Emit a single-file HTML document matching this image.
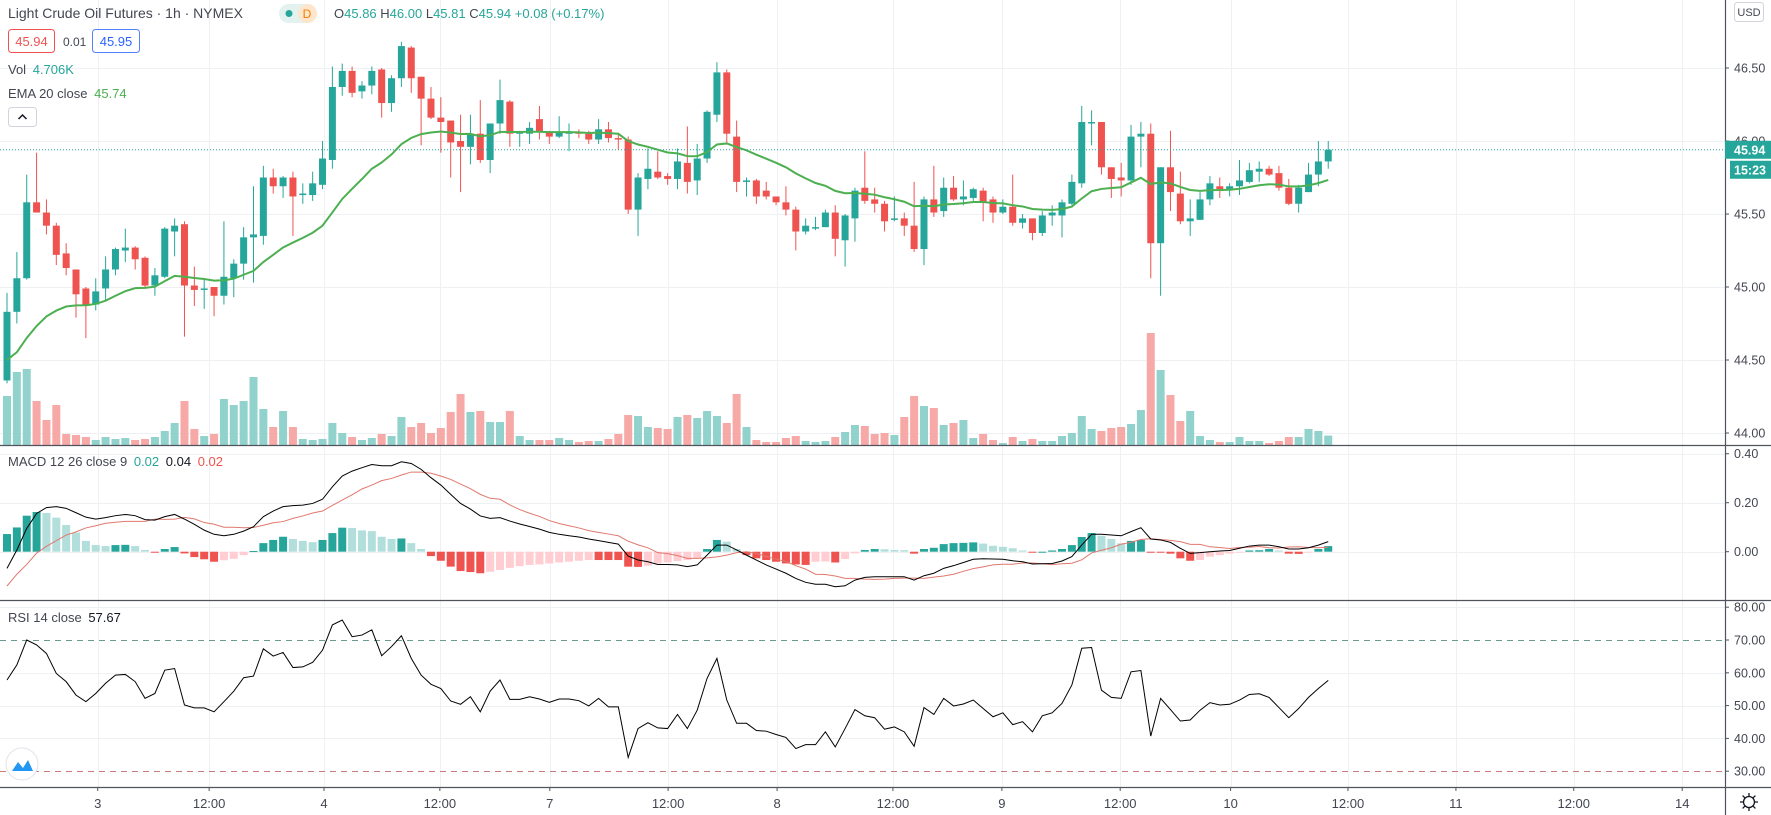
<!DOCTYPE html>
<html><head><meta charset="utf-8"><style>
html,body{margin:0;padding:0;background:#fff;}
#wrap{position:relative;width:1771px;height:815px;overflow:hidden;font-family:"Liberation Sans",sans-serif;}
svg text{font-family:"Liberation Sans",sans-serif;}
</style></head><body>
<div id="wrap">
<svg id="chart" width="1771" height="815" viewBox="0 0 1771 815" xmlns="http://www.w3.org/2000/svg">
<g id="grid"></g>
<g id="vol"></g>
<g id="candles"></g>
<g id="ema"></g>
<g id="macd"></g>
<g id="rsi"></g>
<g id="axes"></g>

<!-- legends -->
<text x="8" y="18" font-size="14" fill="#434651">Light Crude Oil Futures · 1h · NYMEX</text>
<rect x="279" y="4" width="38" height="19" rx="9.5" fill="#e3f2ef"/>
<rect x="298" y="4" width="19" height="19" rx="9.5" fill="#fde6cc"/>
<circle cx="289" cy="13.5" r="3.5" fill="#26a69a"/>
<text x="307" y="18" font-size="12" fill="#f57c00" text-anchor="middle">D</text>
<text x="334" y="18" font-size="13" fill="#434651">O<tspan fill="#26a69a">45.86</tspan> H<tspan fill="#26a69a">46.00</tspan> L<tspan fill="#26a69a">45.81</tspan> C<tspan fill="#26a69a">45.94</tspan> <tspan fill="#26a69a">+0.08 (+0.17%)</tspan></text>
<rect x="8.5" y="29.5" width="46" height="23" rx="3" fill="#fff" stroke="#ef5350"/>
<text x="31.5" y="46" font-size="13" fill="#ef5350" text-anchor="middle">45.94</text>
<text x="63" y="46" font-size="12" fill="#434651">0.01</text>
<rect x="92.5" y="29.5" width="47" height="23" rx="3" fill="#fff" stroke="#2962ff" stroke-opacity="0.8"/>
<text x="116" y="46" font-size="13" fill="#2962ff" text-anchor="middle">45.95</text>
<text x="8" y="74" font-size="13" fill="#434651">Vol <tspan fill="#26a69a" dx="3">4.706K</tspan></text>
<text x="8" y="98" font-size="13" fill="#434651">EMA 20 close <tspan fill="#4caf50" dx="3">45.74</tspan></text>
<rect x="8.5" y="107.5" width="28" height="19" rx="3" fill="#fff" stroke="#d1d4dc"/>
<path d="M18.5 119 L22.5 115 L26.5 119" fill="none" stroke="#131722" stroke-width="1.5"/>
<text x="8" y="466" font-size="13" fill="#434651">MACD 12 26 close 9 <tspan fill="#26a69a" dx="3">0.02</tspan> <tspan fill="#131722" dx="3">0.04</tspan> <tspan fill="#ef5350" dx="3">0.02</tspan></text>
<text x="8" y="622" font-size="13" fill="#434651">RSI 14 close <tspan fill="#131722" dx="3">57.67</tspan></text>
<circle cx="22" cy="764" r="16" fill="#fff" stroke="#e0e3eb"/>
<path d="M12 771 L18 762 L23 768 L28 760 L33 771 Z" fill="#2196f3"/>
<rect x="1734.5" y="2.5" width="29" height="19" rx="3" fill="#fff" stroke="#d1d4dc"/>
<text x="1749" y="16" font-size="11" fill="#434651" text-anchor="middle">USD</text>
<g transform="translate(1749,802)">
<circle r="5.5" fill="none" stroke="#131722" stroke-width="1.3"/>
<path d="M0 -9V-5.5M0 5.5V9M-9 0H-5.5M5.5 0H9M-6.4 -6.4L-3.9 -3.9M3.9 3.9L6.4 6.4M-6.4 6.4L-3.9 3.9M3.9 -3.9L6.4 -6.4" stroke="#131722" stroke-width="1.3"/>
</g>
</svg>
</div>
<script>
const openP=[44.36,44.83,45.06,45.58,45.51,45.42,45.23,45.12,44.99,44.88,44.99,45.12,45.25,45.27,45.20,45.01,45.07,45.38,45.43,45.01,44.99,45.00,44.94,45.06,45.16,45.34,45.35,45.75,45.69,45.75,45.63,45.63,45.70,45.87,46.37,46.48,46.34,46.38,46.49,46.26,46.43,46.64,46.44,46.29,46.16,46.14,46.00,45.96,46.05,45.87,46.12,46.27,46.05,46.05,46.15,46.06,46.03,46.06,46.06,46.05,46.01,46.08,46.02,46.01,45.53,45.74,45.79,45.76,45.74,45.85,45.73,45.88,46.18,46.47,46.03,45.73,45.73,45.66,45.62,45.58,45.53,45.38,45.41,45.41,45.51,45.32,45.47,45.68,45.60,45.57,45.47,45.47,45.42,45.26,45.60,45.52,45.68,45.60,45.61,45.66,45.60,45.51,45.55,45.44,45.47,45.37,45.49,45.49,45.57,45.71,46.12,46.13,45.82,45.75,45.73,46.03,46.05,45.30,45.82,45.64,45.45,45.46,45.60,45.69,45.67,45.69,45.72,45.79,45.81,45.78,45.68,45.57,45.65,45.77,45.86];
const highP=[44.96,45.24,45.77,45.92,45.60,45.44,45.30,45.12,45.00,45.06,45.21,45.27,45.40,45.28,45.21,45.13,45.41,45.47,45.45,45.14,45.06,45.00,45.45,45.19,45.41,45.69,45.83,45.81,45.76,45.79,45.71,45.79,46.00,46.51,46.53,46.51,46.41,46.51,46.50,46.45,46.68,46.65,46.44,46.37,46.30,46.14,46.18,46.18,46.28,46.12,46.42,46.28,46.07,46.13,46.24,46.07,46.17,46.12,46.08,46.07,46.15,46.13,46.05,46.03,45.78,45.95,45.93,45.78,45.95,46.10,45.98,46.21,46.54,46.49,46.14,45.75,45.74,45.72,45.62,45.69,45.55,45.47,45.48,45.53,45.56,45.50,45.68,45.93,45.68,45.59,45.62,45.51,45.72,45.62,45.83,45.75,45.76,45.73,45.68,45.68,45.62,45.60,45.77,45.50,45.47,45.52,45.56,45.60,45.77,46.24,46.21,46.13,45.82,45.85,46.11,46.13,46.12,45.82,46.07,45.79,45.60,45.65,45.76,45.75,45.71,45.87,45.85,45.86,45.83,45.83,45.74,45.70,45.85,46.00,46.00];
const lowP=[44.34,44.75,45.05,45.51,45.36,45.15,45.08,44.79,44.65,44.84,44.91,45.08,45.17,45.12,44.99,44.94,45.06,45.21,44.66,44.87,44.85,44.80,44.88,44.93,45.05,45.03,45.29,45.64,45.61,45.35,45.57,45.59,45.67,45.81,46.31,46.30,46.29,46.32,46.16,46.20,46.37,46.33,45.97,46.15,45.92,45.75,45.65,45.84,45.85,45.78,46.05,45.96,45.96,45.98,46.01,45.98,46.02,45.93,46.02,45.98,45.98,45.99,45.94,45.50,45.35,45.67,45.74,45.70,45.67,45.64,45.63,45.85,46.13,45.99,45.65,45.62,45.57,45.60,45.56,45.49,45.25,45.36,45.39,45.41,45.21,45.14,45.31,45.57,45.51,45.38,45.45,45.35,45.24,45.15,45.48,45.48,45.59,45.56,45.59,45.45,45.44,45.50,45.42,45.40,45.32,45.35,45.42,45.34,45.56,45.68,45.97,45.77,45.61,45.62,45.70,45.82,45.06,44.94,45.52,45.43,45.35,45.46,45.56,45.61,45.62,45.63,45.71,45.72,45.76,45.66,45.56,45.51,45.65,45.69,45.81];
const closeP=[44.83,45.06,45.58,45.51,45.42,45.22,45.13,44.95,44.88,44.97,45.12,45.26,45.27,45.19,45.01,45.08,45.40,45.42,45.01,44.98,44.99,44.94,45.07,45.16,45.34,45.36,45.75,45.69,45.75,45.62,45.64,45.71,45.88,46.37,46.48,46.33,46.38,46.48,46.26,46.43,46.65,46.43,46.29,46.16,46.13,45.99,45.96,46.05,45.87,46.12,46.28,46.05,46.06,46.09,46.06,46.03,46.06,46.06,46.05,46.01,46.08,46.02,46.01,45.53,45.75,45.81,45.75,45.74,45.86,45.72,45.88,46.20,46.47,46.05,45.72,45.73,45.62,45.62,45.58,45.53,45.38,45.42,45.41,45.51,45.33,45.49,45.66,45.59,45.57,45.45,45.47,45.42,45.26,45.60,45.51,45.68,45.60,45.62,45.67,45.58,45.51,45.55,45.44,45.47,45.37,45.49,45.51,45.58,45.72,46.13,46.13,45.82,45.74,45.73,46.03,46.05,45.30,45.82,45.65,45.45,45.47,45.60,45.71,45.67,45.69,45.73,45.80,45.81,45.77,45.68,45.57,45.68,45.77,45.86,45.94];
const volumeK=[24.5,36.5,38,22,12.5,20,5.5,5,4,2.5,4,3,3.5,2.5,3,4,7,11,22,8,4.5,5.5,23,20,22,34,18,9,17,9,3,2.5,3,11,6,4,2.5,3.5,5.5,4.5,14,9,11,6,8.5,16.5,25.5,16.5,17,11.5,11.5,17,4.5,2.5,2.5,2.5,3.5,2.5,1.5,2,2,3,5.5,15,14.5,9,8.5,8,14,15,13.5,17,14.5,11,25.5,9,2.5,1.5,1.5,3.5,4.5,2,1.5,2,4,6.5,10,9.5,5.5,6,5,14,24.5,19.5,18.5,10,11,12.5,3.5,5.5,2.5,1,4,2,3,2,2,4.5,6,14.5,8,7,8.5,9,10.5,17.5,56,37.5,25,12,17,4.5,2.5,1.5,1.5,4,2,2,1,2,4,4,8,7,4.706];
const macdLine=[-0.068,0.007,0.095,0.156,0.180,0.184,0.177,0.159,0.141,0.133,0.139,0.147,0.152,0.147,0.131,0.129,0.143,0.152,0.133,0.112,0.088,0.071,0.065,0.071,0.084,0.102,0.143,0.166,0.184,0.188,0.190,0.197,0.214,0.265,0.309,0.329,0.343,0.356,0.351,0.351,0.367,0.360,0.336,0.302,0.272,0.234,0.197,0.174,0.146,0.136,0.139,0.125,0.113,0.103,0.092,0.079,0.071,0.065,0.060,0.052,0.045,0.038,0.031,-0.018,-0.034,-0.041,-0.052,-0.052,-0.054,-0.061,-0.054,-0.014,0.027,0.027,0.007,-0.014,-0.034,-0.054,-0.071,-0.088,-0.109,-0.125,-0.133,-0.133,-0.143,-0.139,-0.116,-0.105,-0.102,-0.102,-0.102,-0.102,-0.116,-0.098,-0.088,-0.068,-0.057,-0.044,-0.031,-0.029,-0.030,-0.031,-0.037,-0.041,-0.050,-0.049,-0.048,-0.038,-0.020,0.027,0.071,0.071,0.068,0.065,0.082,0.098,0.052,0.048,0.038,0.014,-0.007,-0.004,0.000,0.003,0.005,0.014,0.023,0.027,0.027,0.020,0.011,0.011,0.016,0.027,0.041];
const macdHist=[0.072,0.099,0.147,0.162,0.158,0.139,0.109,0.078,0.044,0.027,0.023,0.027,0.028,0.023,0.007,-0.004,0.011,0.019,-0.007,-0.022,-0.031,-0.041,-0.035,-0.029,-0.014,0.003,0.035,0.048,0.061,0.052,0.044,0.039,0.048,0.076,0.098,0.097,0.087,0.084,0.061,0.052,0.054,0.035,0.011,-0.018,-0.037,-0.061,-0.079,-0.083,-0.088,-0.082,-0.075,-0.066,-0.059,-0.054,-0.052,-0.048,-0.044,-0.041,-0.037,-0.034,-0.034,-0.034,-0.034,-0.061,-0.062,-0.057,-0.048,-0.044,-0.038,-0.034,-0.027,0.011,0.048,0.041,0.011,-0.014,-0.027,-0.034,-0.041,-0.048,-0.052,-0.054,-0.041,-0.040,-0.044,-0.030,-0.007,0.007,0.011,0.010,0.007,0.006,-0.008,0.011,0.016,0.031,0.035,0.036,0.038,0.033,0.024,0.020,0.014,0.005,-0.004,0.000,0.005,0.011,0.027,0.060,0.076,0.065,0.052,0.034,0.044,0.048,-0.001,-0.002,-0.008,-0.027,-0.037,-0.034,-0.020,-0.014,-0.008,-0.003,0.005,0.006,0.011,0.005,-0.008,-0.009,-0.001,0.011,0.023];
const macdSignal=macdLine.map((m,i)=>m-macdHist[i]);
const rsiValues=[57.8,62.4,70.0,68.5,65.9,59.8,57.3,53.2,51.2,53.7,56.8,59.3,59.5,57.3,52.2,53.7,60.8,61.3,50.2,49.3,49.3,48.1,51.2,54.4,58.5,59.0,67.3,65.1,66.2,61.6,61.8,63.2,66.9,74.6,76.1,71.0,71.5,73.1,65.2,68.0,71.3,64.4,59.3,56.5,55.2,51.4,50.4,52.7,48.1,54.4,57.8,51.9,51.9,52.7,52.0,51.0,52.0,52.0,51.5,49.9,52.2,49.6,49.6,34.2,43.0,44.8,43.2,43.0,47.3,43.0,48.6,58.3,64.4,51.7,44.6,44.6,42.4,42.2,41.2,40.3,36.9,38.1,38.1,42.0,37.4,43.0,48.8,46.9,46.3,42.8,43.5,42.0,37.6,49.4,47.3,52.2,49.9,50.5,51.7,49.1,46.6,47.8,44.2,45.1,42.0,46.9,47.8,50.7,56.3,67.5,67.7,54.7,52.5,52.2,60.3,60.7,40.7,52.2,48.8,45.3,45.6,48.6,50.9,50.2,50.4,51.7,53.4,53.6,52.5,49.4,46.3,49.1,52.5,55.2,57.7];
const emaSeed=44.50;
const priceTicks=["46.50","46.00","45.50","45.00","44.50","44.00"];
const macdTicks=["0.40","0.20","0.00"];
const rsiTicks=["80.00","70.00","60.00","50.00","40.00","30.00"];
const timeLabels=["3","12:00","4","12:00","7","12:00","8","12:00","9","12:00","10","12:00","11","12:00","14"];
const timeTickIdx=[9.2,20.5,32.15,43.9,55.05,67.05,78.1,89.85,100.9,112.9,124.1,136.0,146.95,158.9,169.9];
const lastPrice=45.94;

const NS="http://www.w3.org/2000/svg";
const X=i=>7+9.86*i;
const PY=p=>141+(46-p)*146;
const MY=v=>551.7-v*245;
const RY=v=>640-(v-70)*3.28;
const VH=v=>v*2;
const AXX=1725;
function mk(tag,attrs,parent){const e=document.createElementNS(NS,tag);for(const k in attrs)e.setAttribute(k,attrs[k]);parent.appendChild(e);return e;}
const $=id=>document.getElementById(id);
const UP="#26a69a",DN="#ef5350";

// grid
const grid=$('grid');
timeTickIdx.forEach(t=>{const x=Math.round(X(t))+0.5;const l=mk('line',{x1:x,x2:x,y1:0,y2:787,stroke:"#eef0f4"},grid);

});
priceTicks.forEach(t=>{const y=Math.round(PY(+t))+0.5;const l=mk('line',{x1:0,x2:AXX,y1:y,y2:y,stroke:"#eef0f4"},grid);

});
macdTicks.forEach(t=>{const y=Math.round(MY(+t))+0.5;const l=mk('line',{x1:0,x2:AXX,y1:y,y2:y,stroke:"#eef0f4"},grid);

});
rsiTicks.forEach(t=>{const v=+t;const y=Math.round(RY(v))+0.5;
if(v===70||v===30){const l=mk('line',{x1:0,x2:AXX,y1:y,y2:y,stroke:v===70?"#6a9a90":"#c77a78","stroke-dasharray":"6,5"},grid);

}
else{const l=mk('line',{x1:0,x2:AXX,y1:y,y2:y,stroke:"#eef0f4"},grid);

}});

// volume
const vg=$('vol');
volumeK.forEach((v,i)=>{const h=VH(v);const r=mk('rect',{x:X(i)-4,y:445-h,width:8,height:h,fill:closeP[i]>=openP[i]?"#92d2cc":"#f7a9a7"},vg);

});

// candles
const cg=$('candles');
openP.forEach((o,i)=>{const c=closeP[i];const col=c>=o?UP:DN;const x=X(i);
const w=mk('line',{x1:x,x2:x,y1:PY(highP[i]),y2:PY(lowP[i]),stroke:col,"stroke-width":1},cg);


const top=PY(Math.max(o,c));const h=Math.max(1.5,Math.abs(PY(o)-PY(c)));
const b=mk('rect',{x:x-3.5,y:top,width:7,height:h,fill:col},cg);

});

// EMA
let e=emaSeed;const k=2/21;const pts=[];
closeP.forEach((c,i)=>{if(i>0)e=c*k+e*(1-k);pts.push(X(i)+","+PY(e));});
const ep=mk('polyline',{points:pts.join(" "),fill:"none",stroke:"#4caf50","stroke-width":2},$('ema'));



// last price line
const lp=mk('line',{x1:0,x2:AXX,y1:PY(lastPrice),y2:PY(lastPrice),stroke:UP,"stroke-dasharray":"1,2"},$('ema'));



// MACD
const mg=$('macd');
macdHist.forEach((h,i)=>{const prev=i>0?macdHist[i-1]:h;let col;
if(h>=0)col=h>=prev?"#26a69a":"#b2dfdb";else col=h<=prev?"#ef5350":"#ffcdd2";
const y0=MY(0),y1=MY(h);const r=mk('rect',{x:X(i)-4,y:Math.min(y0,y1),width:8,height:Math.max(1,Math.abs(y1-y0)),fill:col},mg);

});
const sl=mk('polyline',{points:macdSignal.map((v,i)=>X(i)+","+MY(v)).join(" "),fill:"none",stroke:"#e0786e","stroke-width":1},mg);


const ml=mk('polyline',{points:macdLine.map((v,i)=>X(i)+","+MY(v)).join(" "),fill:"none",stroke:"#000","stroke-width":1},mg);



// RSI
const rl=mk('polyline',{points:rsiValues.map((v,i)=>X(i)+","+RY(v)).join(" "),fill:"none",stroke:"#000","stroke-width":1},$('rsi'));



// axes
const ax=$('axes');
[[445.5],[600.5],[787.5]].forEach(([y])=>{const l=mk('line',{x1:0,x2:1771,y1:y,y2:y,stroke:"#50535e","stroke-width":1.2},ax);

});
const va=mk('line',{x1:AXX+0.5,x2:AXX+0.5,y1:0,y2:815,stroke:"#50535e","stroke-width":1.2},ax);


function ylabel(txt,y,name){const t=mk('line',{x1:AXX,x2:AXX+4,y1:y,y2:y,stroke:"#50535e"},ax);


const s=mk('text',{x:1734,y:y+4.5,"font-size":12.5,fill:"#434651"},ax);s.textContent=txt;

}
priceTicks.forEach(t=>ylabel(t,PY(+t),'price-tick-label'));
macdTicks.forEach(t=>ylabel(t,MY(+t),'macd-tick-label'));
rsiTicks.forEach(t=>ylabel(t,RY(+t),'rsi-tick-label'));
timeLabels.forEach((lab,j)=>{const x=X(timeTickIdx[j]);
const t=mk('line',{x1:x,x2:x,y1:787,y2:791,stroke:"#50535e"},ax);


const s=mk('text',{x:x,y:808,"font-size":13,fill:"#434651","text-anchor":"middle"},ax);s.textContent=lab;

});
// price tags
const ly=PY(lastPrice);
const tag=mk('rect',{x:AXX,y:ly-9,width:46,height:18,fill:UP},ax);


const tt=mk('text',{x:1734,y:ly+4.5,"font-size":12.5,"font-weight":"bold",fill:"#fff"},ax);tt.textContent=lastPrice.toFixed(2);


const ct=mk('rect',{x:1730,y:ly+11,width:41,height:18,fill:UP},ax);


const cv=mk('text',{x:1734,y:ly+24.5,"font-size":12.5,"font-weight":"bold",fill:"#fff"},ax);cv.textContent="15:23";


</script>
</body></html>
